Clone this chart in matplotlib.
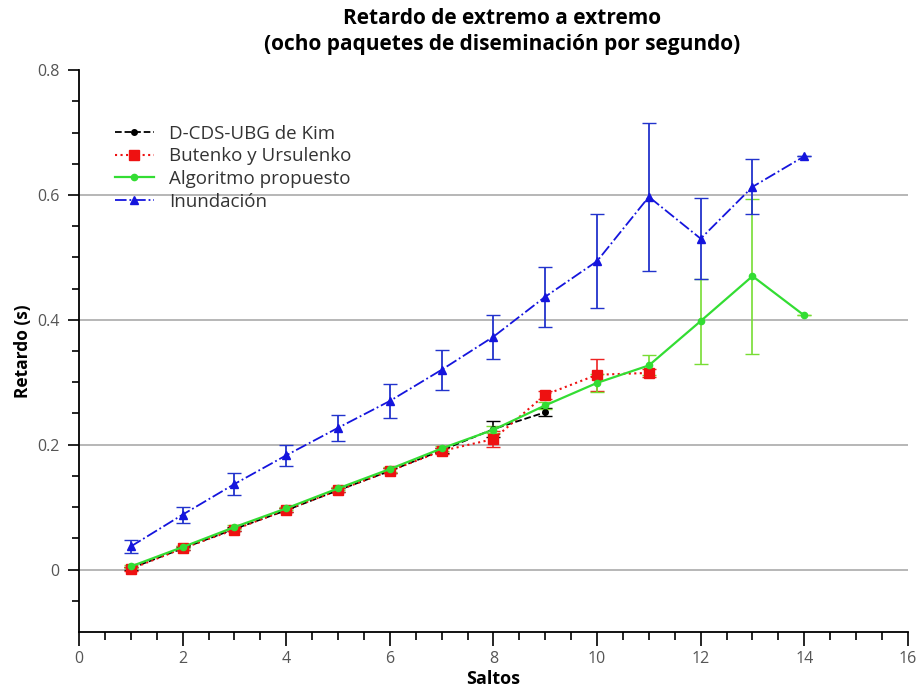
import matplotlib
matplotlib.use("Agg")
import matplotlib.pyplot as plt
from matplotlib.ticker import MultipleLocator, FixedLocator

# hops per series
hops_kim = [1, 2, 3, 4, 5, 6, 7, 8, 9]
hops_butenko = [1, 2, 3, 4, 5, 6, 7, 8, 9, 10, 11]
hops_alg = [1, 2, 3, 4, 5, 6, 7, 8, 9, 10, 11, 12, 13, 14]
hops_flood = [1, 2, 3, 4, 5, 6, 7, 8, 9, 10, 11, 12, 13, 14]

# mean end-to-end delay (s) and error
kim = [0.002, 0.034, 0.065, 0.095, 0.127, 0.158, 0.191, 0.225, 0.252]
kim_err = [0.002, 0.002, 0.003, 0.003, 0.003, 0.004, 0.004, 0.013, 0.006]

butenko = [0.001, 0.034, 0.064, 0.096, 0.127, 0.158, 0.190, 0.209, 0.280, 0.312, 0.315]
butenko_err = [0.003, 0.003, 0.003, 0.003, 0.003, 0.004, 0.005, 0.013, 0.006, 0.026, 0.006]

alg = [0.005, 0.036, 0.068, 0.098, 0.130, 0.161, 0.194, 0.224, 0.263, 0.299, 0.327,
       0.398, 0.470, 0.407]
alg_err = [0.002, 0.002, 0.003, 0.003, 0.003, 0.004, 0.004, 0.006, 0.006, 0.014, 0.016,
           0.068, 0.124, 0.0]

flood = [0.037, 0.088, 0.137, 0.183, 0.227, 0.270, 0.320, 0.373, 0.437, 0.494, 0.597,
         0.530, 0.613, 0.662]
flood_err = [0.010, 0.013, 0.017, 0.017, 0.021, 0.027, 0.032, 0.035, 0.048, 0.075, 0.119,
             0.065, 0.044, 0.0]

labels = ["D-CDS-UBG de Kim", "Butenko y Ursulenko", "Algoritmo propuesto", "Inundación"]

plt.rcParams["font.family"] = ["Open Sans", "DejaVu Sans"]

fig = plt.figure(figsize=(9.22, 6.92), dpi=100)
ax = fig.add_axes([0.0857, 0.0867, 0.899, 0.812])

series = [
    ax.errorbar(hops_kim, kim, yerr=kim_err, color="black", ls="--", lw=1.3,
                marker="o", ms=4, ecolor="black", elinewidth=1.2, capsize=5),
    ax.errorbar(hops_butenko, butenko, yerr=butenko_err, color="#ee1111", ls=":", lw=1.5,
                marker="s", ms=6.5, ecolor="#ee2222", elinewidth=1.2, capsize=5),
    ax.errorbar(hops_alg, alg, yerr=alg_err, color="#33dd33", ls="-", lw=1.6,
                marker="o", ms=4.5, ecolor="#77dd33", elinewidth=1.2, capsize=5),
    ax.errorbar(hops_flood, flood, yerr=flood_err, color="#1515dd", ls="-.", lw=1.3,
                marker="^", ms=5.5, ecolor="#2233cc", elinewidth=1.3, capsize=5),
]

ax.set_xlim(0, 16)
ax.set_ylim(-0.1, 0.8)
ax.xaxis.set_major_locator(MultipleLocator(2))
ax.xaxis.set_minor_locator(MultipleLocator(0.5))
ax.set_yticks([0, 0.2, 0.4, 0.6, 0.8])
ax.set_yticklabels(["0", "0.2", "0.4", "0.6", "0.8"])
ax.yaxis.set_minor_locator(FixedLocator([-0.05, 0.05, 0.1, 0.15, 0.25, 0.3, 0.35,
                                         0.45, 0.5, 0.55, 0.65, 0.7, 0.75]))

ax.yaxis.grid(True, color="#aaaaaa", lw=1.2)
ax.yaxis.get_major_ticks()[-1].gridline.set_visible(False)
ax.set_axisbelow(True)

for side in ("top", "right"):
    ax.spines[side].set_visible(False)
for side in ("left", "bottom"):
    ax.spines[side].set_linewidth(1.3)

ax.tick_params(axis="y", which="major", direction="out", length=8, width=1.2,
               labelsize=11.5, labelcolor="#555555", pad=6)
ax.tick_params(axis="y", which="minor", direction="out", length=5, width=1.2)
ax.tick_params(axis="x", which="major", direction="out", length=10, width=1.2,
               labelsize=11.5, labelcolor="#555555", pad=4)
ax.tick_params(axis="x", which="minor", direction="out", length=6, width=1.2)

ax.set_xlabel("Saltos", fontsize=13, fontweight="bold", labelpad=2)
ax.set_ylabel("Retardo (s)", fontsize=12.5, fontweight="bold", labelpad=4)
fig.suptitle("Retardo de extremo a extremo\n(ocho paquetes de diseminación por segundo)",
             fontsize=15, fontweight="bold", y=0.988, x=0.545, linespacing=1.3)

# legend shows only line + marker, no error bars
ax.legend([s[0] for s in series], labels, loc="upper left",
          bbox_to_anchor=(0.043, 0.903), borderaxespad=0, borderpad=0,
          frameon=False, fontsize=13.5, handlelength=2.1, handletextpad=0.8,
          labelspacing=0.25, labelcolor="#333333")

fig.savefig("out.png", dpi=100)
